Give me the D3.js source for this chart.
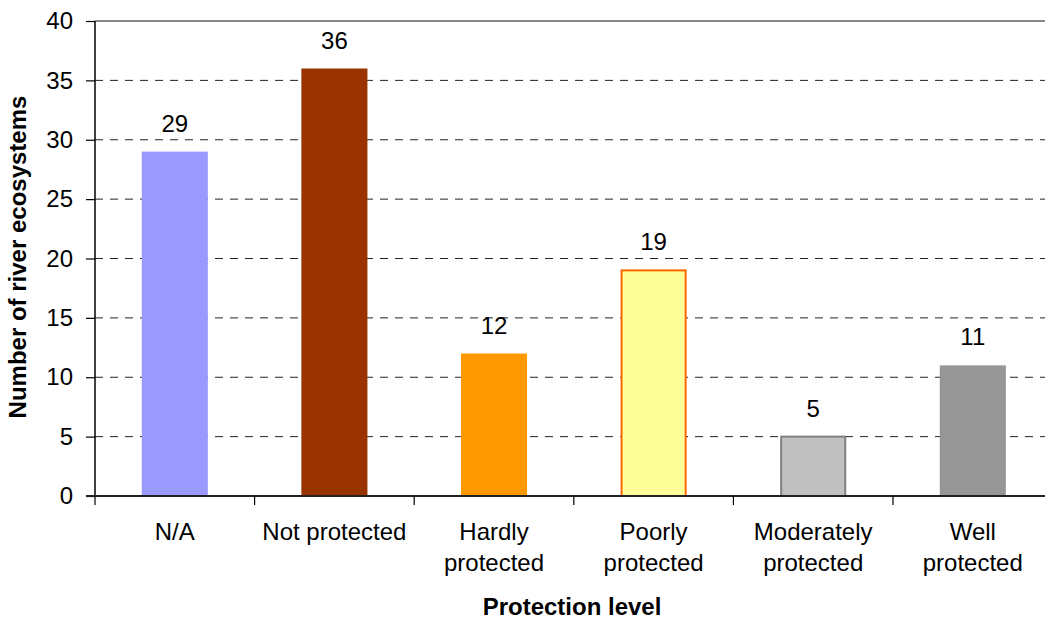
<!DOCTYPE html>
<html>
<head>
<meta charset="utf-8">
<script src="https://cdn.jsdelivr.net/npm/d3@7"></script>
<style>
  html, body { margin: 0; padding: 0; background: #fff; }
  svg { display: block; font-family: Arial, "Liberation Sans", sans-serif; }
</style>
</head>
<body>
<svg id="chart" width="1045" height="619"></svg>
<script>
// Protection level of river ecosystems
const categories = ["N/A", "Not protected", "Hardly protected", "Poorly protected", "Moderately protected", "Well protected"];
const categoryLines = [["N/A"], ["Not protected"], ["Hardly", "protected"], ["Poorly", "protected"], ["Moderately", "protected"], ["Well", "protected"]];
const counts = [29, 36, 12, 19, 5, 11];
const fills = ["#9999ff", "#993300", "#ff9900", "#ffff99", "#c0c0c0", "#969696"];
const strokes = [null, null, null, "#ff6600", "#808080", null];
const yTicks = [0, 5, 10, 15, 20, 25, 30, 35, 40];

const svg = d3.select("#chart");
const plotLeft = 95, plotTop = 21, plotBottom = 496, step = 159.6;
const plotRight = plotLeft + step * categories.length;
const fontSize = "24px";

const x = d3.scaleBand()
  .domain(categories)
  .range([plotLeft, plotRight])
  .paddingInner(0.586)
  .paddingOuter(0.293);

const y = d3.scaleLinear().domain([0, 40]).range([plotBottom, plotTop]);

// dashed gridlines
svg.append("g")
  .selectAll("line")
  .data(yTicks.filter(d => d > 0 && d < 40))
  .join("line")
  .attr("x1", plotLeft).attr("x2", 1045)
  .attr("y1", d => y(d)).attr("y2", d => y(d))
  .attr("stroke", "#222")
  .attr("stroke-width", 1)
  .attr("stroke-dasharray", "8,7");

// top border of plot area
svg.append("line")
  .attr("x1", plotLeft).attr("x2", 1045)
  .attr("y1", y(40)).attr("y2", y(40))
  .attr("stroke", "#888").attr("stroke-width", 2);

// bars
svg.append("g")
  .selectAll("rect")
  .data(counts)
  .join("rect")
  .attr("x", (d, i) => x(categories[i]) + (strokes[i] ? 1 : 0))
  .attr("width", (d, i) => x.bandwidth() - (strokes[i] ? 2 : 0))
  .attr("y", d => y(d))
  .attr("height", d => y(0) - y(d))
  .attr("fill", (d, i) => fills[i])
  .attr("stroke", (d, i) => strokes[i] || "none")
  .attr("stroke-width", 2);

// value labels
svg.append("g")
  .selectAll("text")
  .data(counts)
  .join("text")
  .attr("x", (d, i) => x(categories[i]) + x.bandwidth() / 2)
  .attr("y", d => y(d) - 20)
  .attr("text-anchor", "middle")
  .attr("font-size", fontSize)
  .attr("fill", "#000")
  .text(d => d);

// y axis
const yAxis = d3.axisLeft(y).tickValues(yTicks).tickSize(9).tickPadding(13);
const gy = svg.append("g").attr("transform", `translate(${plotLeft},0)`).call(yAxis);
gy.select(".domain").attr("stroke", "#000").attr("stroke-width", 1.5).attr("d", `M0,${plotTop}V${plotBottom}`);
gy.selectAll(".tick line").attr("stroke", "#000").attr("stroke-width", 1.2);
gy.selectAll(".tick text").attr("font-size", fontSize).attr("font-family", "Arial, 'Liberation Sans', sans-serif").attr("fill", "#000");

// x axis with ticks at category boundaries
const boundaries = d3.range(categories.length + 1).map(i => plotLeft + i * step);
svg.append("line")
  .attr("x1", plotLeft - 9).attr("x2", 1045)
  .attr("y1", plotBottom).attr("y2", plotBottom)
  .attr("stroke", "#222").attr("stroke-width", 1.8);
svg.append("g")
  .selectAll("line")
  .data(boundaries)
  .join("line")
  .attr("x1", d => d).attr("x2", d => d)
  .attr("y1", plotBottom).attr("y2", plotBottom + 9)
  .attr("stroke", "#000").attr("stroke-width", 1.2);

// category labels
const gx = svg.append("g");
categories.forEach((c, i) => {
  const t = gx.append("text")
    .attr("x", x(c) + x.bandwidth() / 2)
    .attr("y", plotBottom + 44)
    .attr("text-anchor", "middle")
    .attr("font-size", fontSize)
    .attr("fill", "#000");
  categoryLines[i].forEach((line, j) => {
    t.append("tspan")
      .attr("x", x(c) + x.bandwidth() / 2)
      .attr("dy", j === 0 ? 0 : 31)
      .text(line);
  });
});

// axis titles
svg.append("text")
  .attr("x", 572).attr("y", 615)
  .attr("text-anchor", "middle")
  .attr("font-size", fontSize)
  .attr("font-weight", "bold")
  .text("Protection level");

svg.append("clipPath").attr("id", "ytitle-clip")
  .append("rect").attr("x", 0).attr("y", 96).attr("width", 60).attr("height", 400);

svg.append("g")
  .attr("clip-path", "url(#ytitle-clip)")
  .append("text")
  .attr("transform", "translate(26,257) rotate(-90)")
  .attr("text-anchor", "middle")
  .attr("font-size", fontSize)
  .attr("font-weight", "bold")
  .text("Number of river ecosystems");
</script>
</body>
</html>
